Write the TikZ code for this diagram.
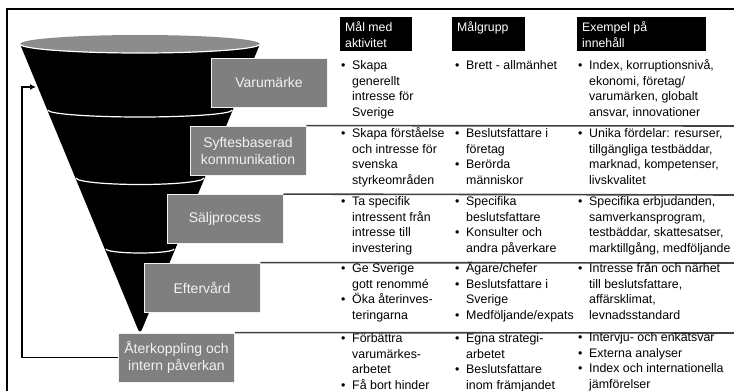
\documentclass[tikz,border=0pt]{standalone}
\usepackage{fontspec}
\setmainfont{Liberation Sans}
\usetikzlibrary{arrows.meta,calc}
\definecolor{boxgray}{HTML}{7F7F7F}
\definecolor{topgray}{HTML}{8C8C8C}
\definecolor{sepgray}{HTML}{404040}
\definecolor{boxtext}{HTML}{F2F2F2}
\newcommand{\bl}{\makebox[11pt][l]{\textbullet}}
\newcommand{\ind}{\hspace*{11pt}}
\newcommand{\cellbox}[1]{\parbox[t]{200pt}{\raggedright #1}}
\tikzset{
  stagebox/.style={fill=boxgray, draw=white!90!gray, line width=0.8pt, text=boxtext,
    minimum width=116pt, minimum height=49pt, inner sep=0pt, align=center,
    font=\fontsize{14}{17}\selectfont},
  hdrbox/.style={fill=black, draw=none, minimum height=34pt, inner sep=0pt, anchor=north west},
  hdrtext/.style={text=white, inner sep=0pt, anchor=base west, font=\fontsize{12.3}{16}\selectfont},
  cell/.style={inner sep=0pt, anchor=base west, font=\fontsize{12.4}{15.5}\selectfont},
  sepline/.style={draw=sepgray, line width=1.6pt},
  frameline/.style={draw=black, line width=1.6pt},
  fbarrow/.style={draw=black, line width=1.6pt, -{Latex[length=6pt,width=6pt]}},
  bandline/.style={draw=white, line width=1.2pt}
}
\begin{document}
\begin{tikzpicture}[x=1pt,y=-1pt]
\useasboundingbox (0,0) rectangle (734,391);
\clip (0,0) rectangle (734,391);
% frame
\draw[frameline] (740,9) -- (7,9) -- (7,400);
% funnel body
\fill[black] (20,44) -- (137,327) .. controls (139,333) and (141,333) .. (143,327) -- (260,44) -- cycle;
\fill[topgray] (140,44) ellipse [x radius=120, y radius=9];
\draw[bandline] (20,44) arc[start angle=180, end angle=0, x radius=120, y radius=9];
\draw[bandline] (47.7,110) arc[start angle=180, end angle=0, x radius=92.3, y radius=7];
\draw[bandline] (76.2,178) arc[start angle=180, end angle=0, x radius=63.8, y radius=6.5];
\draw[bandline] (106,249) arc[start angle=180, end angle=0, x radius=34, y radius=4];
% stage boxes
\node[stagebox] (varu) at (269,82.5) {Varumärke};
\node[stagebox] (syft) at (248,150.5) {Syftesbaserad\\kommunikation};
\node[stagebox] (salj) at (225,219) {Säljprocess};
\node[stagebox] (efter) at (202,287.5) {Eftervård};
\node[stagebox] (aterk) at (176.5,357.5) {Återkoppling och\\intern påverkan};
% separators
\coordinate (e1) at (740,126);
\coordinate (e2) at (740,195);
\coordinate (e3) at (740,263);
\coordinate (e4) at (740,333);
\draw[sepline] (syft.north east) -- (e1);
\draw[sepline] (salj.north east) -- (e2);
\draw[sepline] (efter.north east) -- (e3);
\draw[sepline] (aterk.north east) -- (e4);
% feedback arrow
\coordinate (fbc) at (22,357.5);
\coordinate (fbt) at (36,87);
\draw[fbarrow] (aterk.west) -- (fbc) |- (fbt);
% headers
\node[hdrbox, minimum width=72pt] (h1) at (340,17) {};
\node[hdrbox, minimum width=73pt] (h2) at (452,17) {};
\node[hdrbox, minimum width=129pt] (h3) at (577,17) {};
\node[hdrtext] (h1t) at ($(h1.north west)+(5,14.5)$) {\parbox[t]{70pt}{Mål med\\aktivitet}};
\node[hdrtext] (h2t) at ($(h2.north west)+(5,14.5)$) {\parbox[t]{70pt}{Målgrupp}};
\node[hdrtext] (h3t) at ($(h3.north west)+(5,14.5)$) {\parbox[t]{120pt}{Exempel på\\innehåll}};
% row 1
\node[cell] (r1a) at (341,69.5) {\cellbox{\bl Skapa\\\ind generellt\\\ind intresse för\\\ind Sverige}};
\node[cell] (r1b) at (455,69.5) {\cellbox{\bl Brett - allmänhet}};
\node[cell] (r1c) at (578,69.5) {\cellbox{\bl Index, korruptionsnivå,\\\ind ekonomi, företag/\\\ind varumärken, globalt\\\ind ansvar, innovationer}};
% row 2
\node[cell] (r2a) at (341,137.5) {\cellbox{\bl Skapa förståelse\\\ind och intresse för\\\ind svenska\\\ind styrkeområden}};
\node[cell] (r2b) at (455,137.5) {\cellbox{\bl Beslutsfattare i\\\ind företag\\\bl Berörda\\\ind människor}};
\node[cell] (r2c) at (578,137.5) {\cellbox{\bl Unika fördelar: resurser,\\\ind tillgängliga testbäddar,\\\ind marknad, kompetenser,\\\ind livskvalitet}};
% row 3
\node[cell] (r3a) at (341,205.5) {\cellbox{\bl Ta specifik\\\ind intressent från\\\ind intresse till\\\ind investering}};
\node[cell] (r3b) at (455,205.5) {\cellbox{\bl Specifika\\\ind beslutsfattare\\\bl Konsulter och\\\ind andra påverkare}};
\node[cell] (r3c) at (578,205.5) {\cellbox{\bl Specifika erbjudanden,\\\ind samverkansprogram,\\\ind testbäddar, skattesatser,\\\ind marktillgång, medföljande}};
% row 4
\node[cell] (r4a) at (341,272.5) {\cellbox{\bl Ge Sverige\\\ind gott renommé\\\bl Öka återinves-\\\ind teringarna}};
\node[cell] (r4b) at (455,272.5) {\cellbox{\bl Ägare/chefer\\\bl Beslutsfattare i\\\ind Sverige\\\bl Medföljande/expats}};
\node[cell] (r4c) at (578,272.5) {\cellbox{\bl Intresse från och närhet\\\ind till beslutsfattare,\\\ind affärsklimat,\\\ind levnadsstandard}};
% row 5
\node[cell] (r5a) at (341,342.5) {\cellbox{\bl Förbättra\\\ind varumärkes-\\\ind arbetet\\\bl Få bort hinder}};
\node[cell] (r5b) at (455,342.5) {\cellbox{\bl Egna strategi-\\\ind arbetet\\\bl Beslutsfattare\\\ind inom främjandet}};
\node[cell] (r5c) at (578,341.5) {\cellbox{\bl Intervju- och enkätsvar\\\bl Externa analyser\\\bl Index och internationella\\\ind jämförelser}};
\end{tikzpicture}
\end{document}
